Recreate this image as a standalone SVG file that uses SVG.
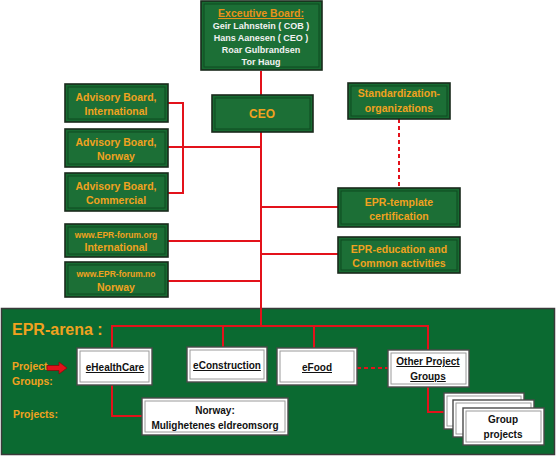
<svg xmlns="http://www.w3.org/2000/svg" width="557" height="461" viewBox="0 0 557 461">
<defs>
<style>
.go{fill:#176a31;stroke:#1a2a1c;stroke-width:1.6}
.gi{fill:#1c6f36;stroke:#0e4a20;stroke-width:1}
.wo{fill:#ffffff;stroke:#4a4a4a;stroke-width:1.4}
.wi{fill:#ffffff;stroke:#9a9a9a;stroke-width:1}
.ot{font-family:"Liberation Sans",Arial,sans-serif;font-weight:bold;fill:#f0a21f;text-anchor:middle;font-size:10.5px}
.wt{font-family:"Liberation Sans",Arial,sans-serif;font-weight:bold;fill:#f2f2f2;text-anchor:middle;font-size:9px}
.bt{font-family:"Liberation Sans",Arial,sans-serif;font-weight:bold;fill:#111;text-anchor:middle;font-size:10px}
.ln{fill:none;stroke:#e3121b;stroke-width:2}
.dl{fill:none;stroke:#e3121b;stroke-width:2;stroke-dasharray:4,3}
</style>
</defs>
<rect width="557" height="461" fill="#ffffff"/>
<g id="epr-arena">
<rect x="1.5" y="308.5" width="553" height="146" fill="#0b6a31" stroke="#3a3a3a" stroke-width="1.5"/>
<text x="12" y="335" font-family="Liberation Sans,Arial,sans-serif" font-weight="bold" font-size="16" fill="#f0a21f">EPR-arena :</text>
<text x="12" y="370" font-family="Liberation Sans,Arial,sans-serif" font-weight="bold" font-size="10.5" fill="#f0a21f">Project</text>
<text x="12" y="385" font-family="Liberation Sans,Arial,sans-serif" font-weight="bold" font-size="10.5" fill="#f0a21f">Groups:</text>
<text x="13" y="418" font-family="Liberation Sans,Arial,sans-serif" font-weight="bold" font-size="10.5" fill="#f0a21f">Projects:</text>
<path d="M47,365.5 H59 V362 L67,368 L59,374 V370.5 H47 Z" fill="#e3121b" stroke="#8a0a0a" stroke-width="0.8"/>
</g>
<g id="connectors">
<path class="ln" d="M261,71 V95 M261,132 V326"/>
<path class="ln" d="M168,103 H183 V193 H168 M168,147 H261"/>
<path class="ln" d="M168,241 H261 M168,281 H261"/>
<path class="ln" d="M261,207 H338 M261,254 H338"/>
<path class="dl" d="M399,119 V188"/>
<path class="ln" d="M112,348 V326 H428 V350 M223,326 V347 M314,326 V348"/>
<path class="dl" d="M357,368 H388"/>
<path class="ln" d="M112,385 V416 H142"/>
<path class="ln" d="M428,387 V412 H444"/>
</g>
<g id="executive-board">
<rect class="go" x="201" y="1" width="121" height="69"/>
<rect class="gi" x="204" y="4" width="115" height="63"/>
<text x="261" y="17" class="ot" style="fill:#e8921a;text-decoration:underline" font-size="10.5">Exceutive Board:</text>
<text x="261" y="29" class="wt">Geir Lahnstein ( COB )</text>
<text x="261" y="41" class="wt">Hans Aanesen ( CEO )</text>
<text x="261" y="53" class="wt">Roar Gulbrandsen</text>
<text x="261" y="65" class="wt">Tor Haug</text>
</g>
<g id="ceo">
<rect class="go" x="212" y="95" width="101" height="37"/>
<rect class="gi" x="215" y="98" width="95" height="31"/>
<text x="262" y="118" class="ot" style="font-size:12px">CEO</text>
</g>
<g id="advisory-international">
<rect class="go" x="65" y="84" width="103" height="38"/>
<rect class="gi" x="68" y="87" width="97" height="32"/>
<text x="116" y="101" class="ot">Advisory Board,</text>
<text x="116" y="115" class="ot">International</text>
</g>
<g id="advisory-norway">
<rect class="go" x="65" y="129" width="103" height="38"/>
<rect class="gi" x="68" y="132" width="97" height="32"/>
<text x="116" y="146" class="ot">Advisory Board,</text>
<text x="116" y="160" class="ot">Norway</text>
</g>
<g id="advisory-commercial">
<rect class="go" x="65" y="173" width="103" height="38"/>
<rect class="gi" x="68" y="176" width="97" height="32"/>
<text x="116" y="190" class="ot">Advisory Board,</text>
<text x="116" y="204" class="ot">Commercial</text>
</g>
<g id="forum-org">
<rect class="go" x="65" y="224" width="103" height="33"/>
<rect class="gi" x="68" y="227" width="97" height="27"/>
<text x="116" y="238" class="ot" style="font-size:8.5px">www.EPR-forum.org</text>
<text x="116" y="251" class="ot">International</text>
</g>
<g id="forum-no">
<rect class="go" x="65" y="262" width="103" height="35"/>
<rect class="gi" x="68" y="265" width="97" height="29"/>
<text x="116" y="277" class="ot" style="font-size:8.5px">www.EPR-forum.no</text>
<text x="116" y="291" class="ot">Norway</text>
</g>
<g id="standardization">
<rect class="go" x="348" y="83" width="102" height="36"/>
<rect class="gi" x="351" y="86" width="96" height="30"/>
<text x="399" y="97" class="ot">Standardization-</text>
<text x="399" y="112" class="ot">organizations</text>
</g>
<g id="epr-template">
<rect class="go" x="338" y="188" width="122" height="39"/>
<rect class="gi" x="341" y="191" width="116" height="33"/>
<text x="399" y="206" class="ot">EPR-template</text>
<text x="399" y="220" class="ot">certification</text>
</g>
<g id="epr-education">
<rect class="go" x="338" y="237" width="122" height="36"/>
<rect class="gi" x="341" y="240" width="116" height="30"/>
<text x="399" y="253" class="ot">EPR-education and</text>
<text x="399" y="267" class="ot">Common activities</text>
</g>
<g id="ehealthcare">
<rect class="wo" x="77" y="348" width="75" height="37"/>
<rect class="wi" x="80" y="351" width="69" height="31"/>
<text x="115" y="371" class="bt" text-decoration="underline">eHealthCare</text>
</g>
<g id="econstruction">
<rect class="wo" x="187" y="347" width="80" height="35"/>
<rect class="wi" x="190" y="350" width="74" height="29"/>
<text x="227" y="369" class="bt" text-decoration="underline">eConstruction</text>
</g>
<g id="efood">
<rect class="wo" x="277" y="348" width="80" height="37"/>
<rect class="wi" x="280" y="351" width="74" height="31"/>
<text x="317" y="371" class="bt" text-decoration="underline">eFood</text>
</g>
<g id="other-project-groups">
<rect class="wo" x="388" y="350" width="81" height="37"/>
<rect class="wi" x="391" y="353" width="75" height="31"/>
<text x="428" y="365" class="bt" text-decoration="underline">Other Project</text>
<text x="428" y="380" class="bt" text-decoration="underline">Groups</text>
</g>
<g id="norway-project">
<rect class="wo" x="142" y="398" width="146" height="37"/>
<rect class="wi" x="145" y="401" width="140" height="31"/>
<text x="215" y="414" class="bt">Norway:</text>
<text x="215" y="429" class="bt">Mulighetenes  eldreomsorg</text>
</g>
<g id="group-projects">
<rect class="wo" x="444" y="393" width="80" height="36"/>
<rect class="wi" x="447" y="396" width="74" height="30"/>
<rect class="wo" x="453" y="400" width="81" height="37"/>
<rect class="wi" x="456" y="403" width="75" height="31"/>
<rect class="wo" x="463" y="408" width="81" height="37"/>
<rect class="wi" x="466" y="411" width="75" height="31"/>
<text x="503" y="423" class="bt">Group</text>
<text x="503" y="438" class="bt">projects</text>
</g>
</svg>
